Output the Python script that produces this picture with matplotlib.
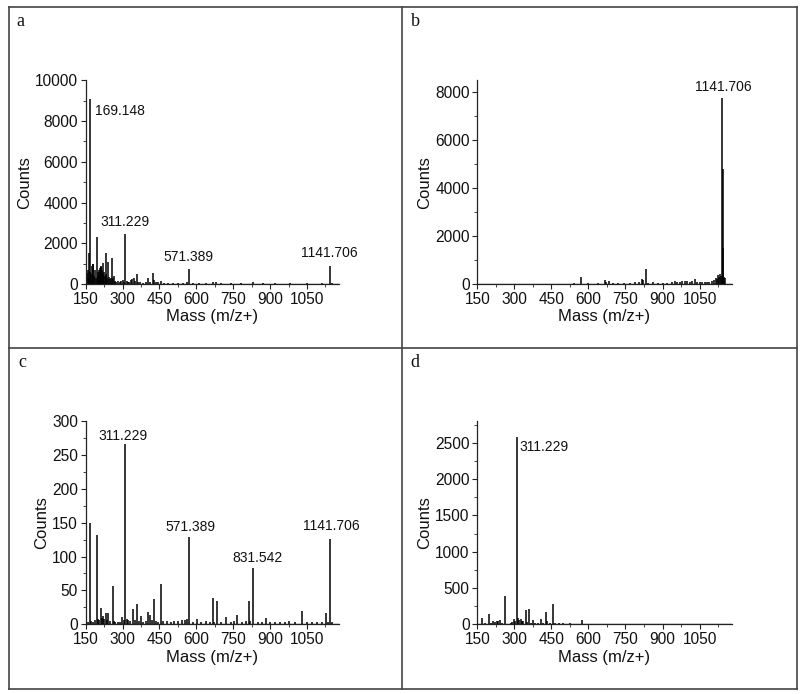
import matplotlib
matplotlib.use("Agg")
import matplotlib.pyplot as plt
from matplotlib.ticker import MultipleLocator
from matplotlib.lines import Line2D

plt.rcParams['font.family'] = ['Liberation Sans', 'DejaVu Sans']

# ---------------- data ----------------
mz_a = [151, 153, 156, 158, 160, 163, 166, 169.148, 172, 175, 178, 181, 184, 187, 190,
        195, 198, 201, 204, 207, 209, 211, 214, 217, 219, 222, 225, 228, 231, 234, 237,
        242, 245, 249, 253, 258, 262, 266, 270, 275, 281, 288, 295, 300, 304, 311.229,
        316, 321, 327, 333, 339, 345, 350, 357, 364, 372, 383, 395, 404, 412, 422, 428,
        436, 445, 456, 470, 485, 505, 525, 545, 560, 571.389, 585, 610, 640, 668, 680,
        700, 740, 780, 831, 870, 920, 980, 1050, 1110, 1141.706, 1150]
counts_a = [600, 450, 550, 300, 700, 1500, 600, 9100, 500, 900, 1000, 980, 400, 700, 300,
            2300, 600, 400, 700, 800, 600, 850, 900, 700, 1030, 500, 600, 400, 1540, 500, 300,
            1100, 350, 250, 300, 1260, 300, 400, 150, 100, 150, 80, 150, 200, 120, 2450,
            150, 100, 120, 200, 250, 300, 150, 490, 100, 80, 60, 100, 280, 100, 520, 200,
            100, 80, 150, 60, 50, 40, 50, 60, 80, 720, 50, 40, 40, 100, 80,
            40, 30, 30, 80, 30, 30, 30, 30, 40, 900, 60]

mz_b = [220, 300, 380, 460, 540, 571.389, 600, 640, 668, 672, 683, 700, 720, 745, 770, 790,
        805, 815, 820, 831.542, 840, 860, 880, 900, 920, 940, 950, 960, 970, 980, 990, 1000,
        1010, 1020, 1030, 1040, 1050, 1060, 1070, 1080, 1090, 1100, 1110, 1115, 1120, 1125,
        1128, 1132, 1136, 1139, 1141.706, 1143, 1145, 1148, 1151]
counts_b = [20, 20, 15, 20, 30, 280, 30, 40, 150, 100, 120, 40, 50, 50, 60, 80,
            100, 200, 150, 625, 60, 70, 60, 60, 60, 90, 120, 80, 100, 130, 110, 120,
            100, 140, 220, 100, 80, 90, 80, 100, 90, 120, 150, 250, 200, 380,
            300, 400, 350, 300, 7750, 4800, 1500, 300, 250]

mz_c = [152, 160, 167, 173, 180, 188, 195, 200, 205, 212, 216, 220, 225, 231, 236, 242, 250,
        259, 265, 270, 280, 290, 298, 304, 311.229, 316, 322, 330, 343, 350, 357, 365, 373,
        385, 395, 404, 410, 418, 427, 435, 445, 456, 465, 480, 495, 510, 525, 540, 552, 560,
        571.389, 585, 602, 620, 640, 655, 666, 673, 685, 700, 719, 740, 755, 767, 785, 800,
        813, 820, 831.542, 850, 865, 882, 900, 920, 940, 960, 977, 1000, 1030, 1050, 1070,
        1090, 1110, 1126, 1135, 1141.706, 1150]
counts_c = [5, 3, 150, 5, 4, 6, 132, 8, 6, 24, 10, 12, 8, 16, 6, 16, 5,
            57, 5, 4, 3, 4, 11, 6, 266, 8, 7, 5, 22, 6, 30, 5, 12,
            4, 5, 18, 14, 6, 37, 5, 4, 60, 5, 5, 4, 5, 5, 6, 7, 8,
            129, 4, 8, 4, 5, 4, 39, 4, 34, 4, 11, 4, 5, 14, 4, 5,
            35, 5, 83.5, 3, 4, 10, 3, 3, 3, 3, 5, 3, 20, 3, 3,
            3, 3, 17, 4, 126, 3]

mz_d = [170, 180, 197, 205, 215, 222, 228, 235, 243, 250, 262, 270, 285, 291, 298, 303,
        311.229, 316, 320, 325, 330, 337, 346, 352, 359, 366, 374, 385, 395, 408, 415, 428,
        433, 445, 457, 465, 480, 495, 510, 525, 540, 555, 572, 590, 620]
counts_d = [91, 20, 142, 20, 50, 30, 45, 40, 55, 20, 390, 10, 20, 30, 70, 40,
            2580, 80, 60, 70, 50, 40, 197, 30, 211, 20, 60, 15, 15, 73, 20, 174,
            40, 20, 276, 15, 20, 15, 10, 15, 10, 10, 60, 5, 5]

x_ticks = [150, 300, 450, 600, 750, 900, 1050]

# ---------------- layout ----------------
W, H = 800, 694
fig = plt.figure(figsize=(W / 100, H / 100), dpi=100)

def px_rect(x0, y0, x1, y1):
    # pixel box (top-left origin) -> figure fraction
    return [x0 / W, 1 - y1 / H, (x1 - x0) / W, (y1 - y0) / H]

panels = [
    dict(letter='a', rect=px_rect(85.7, 80.3, 339, 284), mz=mz_a, cnt=counts_a,
         ylim=10000, ymaj=2000, ymin=1000,
         labels=[(169.148, 9100, 'left', (3, -14)),
                 (311.229, 2450, 'center', (0, 4)),
                 (571.389, 720, 'center', (-1, 4)),
                 (1141.706, 900, 'center', (0, 4))],
         lx=20, ly=22),
    dict(letter='b', rect=px_rect(477.3, 80.3, 731.7, 284), mz=mz_b, cnt=counts_b,
         ylim=8500, ymaj=2000, ymin=1000,
         labels=[(1141.706, 7750, 'center', (1, 3))],
         lx=415, ly=22),
    dict(letter='c', rect=px_rect(85.7, 421, 339, 624.3), mz=mz_c, cnt=counts_c,
         ylim=300, ymaj=50, ymin=25,
         labels=[(311.229, 266, 'center', (-2, 1)),
                 (571.389, 129, 'center', (1, 2)),
                 (831.542, 83.5, 'center', (3, 2)),
                 (1141.706, 126, 'center', (1, 4))],
         lx=22, ly=362),
    dict(letter='d', rect=px_rect(477.3, 421, 731.7, 624.3), mz=mz_d, cnt=counts_d,
         ylim=2800, ymaj=500, ymin=250,
         labels=[(311.229, 2580, 'left', (2, -12))],
         lx=415, ly=362),
]

for p in panels:
    ax = fig.add_axes(p['rect'])
    ax.vlines(p['mz'], 0, p['cnt'], colors='black', linewidth=1.1)
    ax.axhline(0, color='black', linewidth=0.9)
    ax.set_xlim(150, 1180)
    ax.set_ylim(0, p['ylim'])
    ax.set_xticks(x_ticks)
    ax.xaxis.set_minor_locator(MultipleLocator(75))
    ax.yaxis.set_major_locator(MultipleLocator(p['ymaj']))
    ax.yaxis.set_minor_locator(MultipleLocator(p['ymin']))
    for s in ['top', 'right']:
        ax.spines[s].set_visible(False)
    for s in ['left', 'bottom']:
        ax.spines[s].set_linewidth(0.9)
        ax.spines[s].set_color('#222222')
    ax.tick_params(which='major', direction='out', length=3.5, width=0.8,
                   labelsize=11.2, pad=2, colors='#222222', labelcolor='#111111')
    ax.tick_params(which='minor', direction='out', length=2, width=0.6, colors='#222222')
    ax.set_xlabel('Mass (m/z+)', fontsize=12, labelpad=2, color='#111111')
    ax.set_ylabel('Counts', fontsize=12, labelpad=2, color='#111111')
    ax.set_facecolor('none')
    for (mx, cy, ha, off) in p['labels']:
        ax.annotate(f'{mx:.3f}', xy=(mx, cy), xytext=off, textcoords='offset points',
                    ha=ha, va='bottom', fontsize=10, color='#111111')
    fig.text(p['lx'] / W, 1 - p['ly'] / H, p['letter'], family='Liberation Serif',
             fontsize=13, ha='center', va='center', color='#111111')

# ---------------- table frame ----------------
bc = '#444444'
x0, x1, xm = 9 / W, 797 / W, 402 / W
y0, y1, ym = 1 - 689 / H, 1 - 7 / H, 1 - 348 / H
for xs, ys in [([x0, x1], [y1, y1]), ([x0, x1], [y0, y0]), ([x0, x0], [y0, y1]),
               ([x1, x1], [y0, y1]), ([xm, xm], [y0, y1]), ([x0, x1], [ym, ym])]:
    fig.add_artist(Line2D(xs, ys, color=bc, linewidth=1.2, transform=fig.transFigure))

fig.savefig('out.png', dpi=100)
